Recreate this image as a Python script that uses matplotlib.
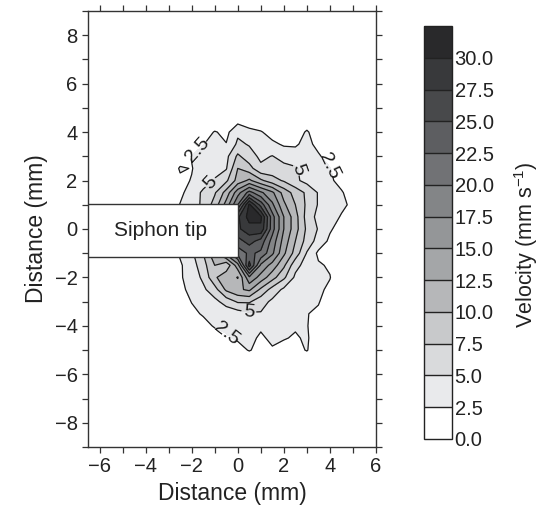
import matplotlib

matplotlib.use("Agg")
import matplotlib.pyplot as plt
import numpy as np
from matplotlib.patches import Rectangle
from matplotlib.ticker import MultipleLocator

plt.rcParams["font.family"] = ["Liberation Sans", "DejaVu Sans"]
plt.rcParams["mathtext.fontset"] = "custom"
plt.rcParams["mathtext.rm"] = "Liberation Sans"

# grid of the velocity field (mm s-1)
x_mm = [-3.5, -3.0, -2.5, -2.0, -1.5, -1.0, -0.5, 0.0, 0.5, 1.0,
        1.5, 2.0, 2.5, 3.0, 3.5, 4.0, 4.5, 5.0, 5.5]
y_mm = [5.0, 4.5, 4.0, 3.5, 3.0, 2.5, 2.0, 1.5, 1.0, 0.5, 0.0,
        -0.5, -1.0, -1.5, -2.0, -2.5, -3.0, -3.5, -4.0, -4.5, -5.0, -5.5]
velocity = [
    [0, 0, 0, 0, 0, 0, 0, 0, 0, 0, 0, 0, 0, 0, 0, 0, 0, 0, 0],
    [0, 0, 0, 0, 0, 0, 0.5, 1.5, 1.0, 0.5, 0, 0, 0, 0.3, 0, 0, 0, 0, 0],
    [0, 0, 0, 0, 1.0, 2.7, 1.8, 4.5, 3.2, 2.7, 1.5, 0.5, 0.8, 2.9, 0.5, 0, 0, 0, 0],
    [0, 0, 0, 1.0, 2.4, 3.5, 2.6, 5.5, 4.8, 3.8, 3.0, 2.2, 2.2, 3.2, 1.8, 0.5, 0, 0, 0],
    [0, 0, 1.0, 2.6, 3.5, 4.0, 4.3, 8.0, 6.0, 4.5, 5.1, 4.0, 3.5, 3.6, 2.8, 1.5, 0.5, 0, 0],
    [0, 0.5, 2.8, 2.4, 3.5, 4.2, 4.8, 10.0, 8.5, 5.5, 6.0, 5.8, 5.3, 4.0, 3.5, 2.6, 1.0, 0, 0],
    [0, 0.5, 2.0, 2.6, 3.8, 5.2, 7.0, 11.0, 13.0, 10.5, 8.5, 7.2, 5.5, 4.2, 3.8, 3.0, 1.5, 0, 0],
    [0, 1.0, 2.0, 3.5, 5.5, 7.2, 11.0, 16.5, 21.0, 18.0, 15.5, 11.5, 9.0, 7.0, 4.8, 3.6, 2.8, 1.0, 0],
    [0, 1.0, 2.6, 3.8, 5.5, 8.5, 13.5, 20.0, 30.5, 24.0, 18.0, 13.0, 10.0, 7.0, 4.8, 3.8, 3.0, 2.0, 0],
    [0, 1.0, 3.0, 5.0, 9.0, 14.0, 20.0, 27.0, 31.0, 30.5, 21.0, 15.0, 11.0, 6.5, 4.2, 3.5, 2.3, 1.0, 0],
    [0, 1.0, 3.0, 5.0, 9.0, 14.0, 20.0, 27.0, 29.0, 29.5, 21.0, 15.0, 11.0, 7.0, 4.8, 2.8, 1.5, 0.5, 0],
    [0, 1.0, 3.0, 5.0, 8.0, 13.0, 18.0, 24.0, 26.0, 24.0, 19.0, 14.0, 10.0, 6.5, 4.0, 2.0, 1.0, 0, 0],
    [0, 1.0, 2.8, 4.5, 7.5, 12.0, 16.0, 21.0, 23.0, 22.0, 18.0, 13.0, 9.0, 4.8, 2.0, 1.5, 0.5, 0, 0],
    [0, 0.8, 2.2, 3.8, 6.5, 10.0, 8.0, 14.0, 26.0, 17.0, 14.0, 10.5, 5.8, 4.0, 2.8, 2.2, 0.3, 0, 0],
    [0, 0.5, 2.2, 3.6, 5.5, 9.5, 12.0, 9.8, 17.0, 14.0, 11.0, 8.0, 4.5, 3.5, 3.0, 2.6, 0.5, 0, 0],
    [0, 0, 1.8, 3.3, 4.5, 6.5, 10.5, 12.0, 13.0, 9.5, 6.5, 4.5, 3.5, 3.2, 3.0, 2.0, 0.2, 0, 0],
    [0, 0, 1.0, 2.6, 3.5, 4.3, 6.0, 7.8, 7.8, 6.0, 4.5, 3.5, 3.0, 3.1, 2.7, 1.0, 0, 0, 0],
    [0, 0, 0.5, 1.8, 2.8, 3.5, 3.5, 3.8, 4.6, 4.8, 3.8, 3.5, 3.2, 2.6, 2.0, 0.5, 0, 0, 0],
    [0, 0, 0, 0.5, 1.5, 2.8, 3.0, 3.0, 3.0, 2.8, 3.0, 3.0, 2.8, 2.7, 0.5, 0, 0, 0, 0],
    [0, 0, 0, 0, 0, 1.0, 2.2, 2.9, 3.0, 2.2, 2.9, 2.7, 2.2, 2.9, 0.5, 0, 0, 0, 0],
    [0, 0, 0, 0, 0, 0, 0.5, 1.5, 2.7, 1.5, 2.3, 1.5, 1.5, 2.7, 0.3, 0, 0, 0, 0],
    [0, 0, 0, 0, 0, 0, 0, 0, 0, 0, 0, 0, 0, 0, 0, 0, 0, 0, 0],
]
levels = [0.0, 2.5, 5.0, 7.5, 10.0, 12.5, 15.0, 17.5, 20.0, 22.5, 25.0, 27.5, 30.0, 32.5]
greys = ["#ffffff", "#e9eaec", "#d9dadc", "#c8c9cb", "#b6b7b9", "#a4a6a8", "#949698",
         "#838587", "#717275", "#5d5e61", "#48494b", "#38393b", "#29292b"]
label_levels = [2.5, 5.0]
label_spots = [(-1.85, 3.35), (-1.3, 2.0), (2.6, 2.45), (3.55, 2.4), (0.4, -3.7), (-0.45, -4.3)]
tip_box = (-6.5, -1.15, 6.5, 2.18)  # x, y, width, height in mm

X, Y = np.meshgrid(x_mm, y_mm)
Z = np.array(velocity)

fig = plt.figure(figsize=(5.49, 5.21), dpi=100)
ax = fig.add_axes([0.1603, 0.142, 0.5246, 0.837])
cax = fig.add_axes([0.773, 0.1574, 0.050, 0.7927])

cf = ax.contourf(X, Y, Z, levels=levels, colors=greys)
cs = ax.contour(X, Y, Z, levels=levels[1:-1], colors="#1a1a1a", linewidths=0.9)
ax.clabel(cs, levels=label_levels, manual=label_spots, fmt="%g", fontsize=14, inline=True,
          colors="#1a1a1a")

x0, y0, w, h = tip_box
ax.add_patch(Rectangle((x0, y0), w, h, facecolor="white", edgecolor="#333333", linewidth=1.0, zorder=5))
ax.text(x0 + w / 2 - 0.1, y0 + h / 2, "Siphon tip", ha="center", va="center", fontsize=15,
        color="#222222", zorder=6)

ax.set_xlim(-6.5, 6)
ax.set_ylim(-9, 9)
ax.xaxis.set_major_locator(MultipleLocator(2))
ax.xaxis.set_minor_locator(MultipleLocator(1))
ax.yaxis.set_major_locator(MultipleLocator(2))
ax.yaxis.set_minor_locator(MultipleLocator(1))
ax.tick_params(which="both", direction="out", top=True, right=True, length=4, width=0.9,
               color="#333333", labelsize=14.5, labelcolor="#222222")
for spine in ax.spines.values():
    spine.set_color("#333333")
    spine.set_linewidth(1.0)
ax.set_xlabel("Distance (mm)", fontsize=16.5, color="#222222", labelpad=4)
ax.set_ylabel("Distance (mm)", fontsize=16.5, color="#222222", labelpad=5)

cbar = fig.colorbar(cf, cax=cax, ticks=levels[:-1], format="%.1f", drawedges=True)
cbar.outline.set_edgecolor("#222222")
cbar.outline.set_linewidth(1.0)
cbar.dividers.set_color("#222222")
cbar.dividers.set_linewidth(1.0)
cbar.ax.tick_params(length=0, labelsize=14.5, labelcolor="#222222", pad=2)
cbar.set_label("Velocity (mm s$^{-1}$)", fontsize=15.5, color="#222222", labelpad=13)
cbar.ax.yaxis.label.set_y(0.47)

fig.savefig("out.png", dpi=100)
